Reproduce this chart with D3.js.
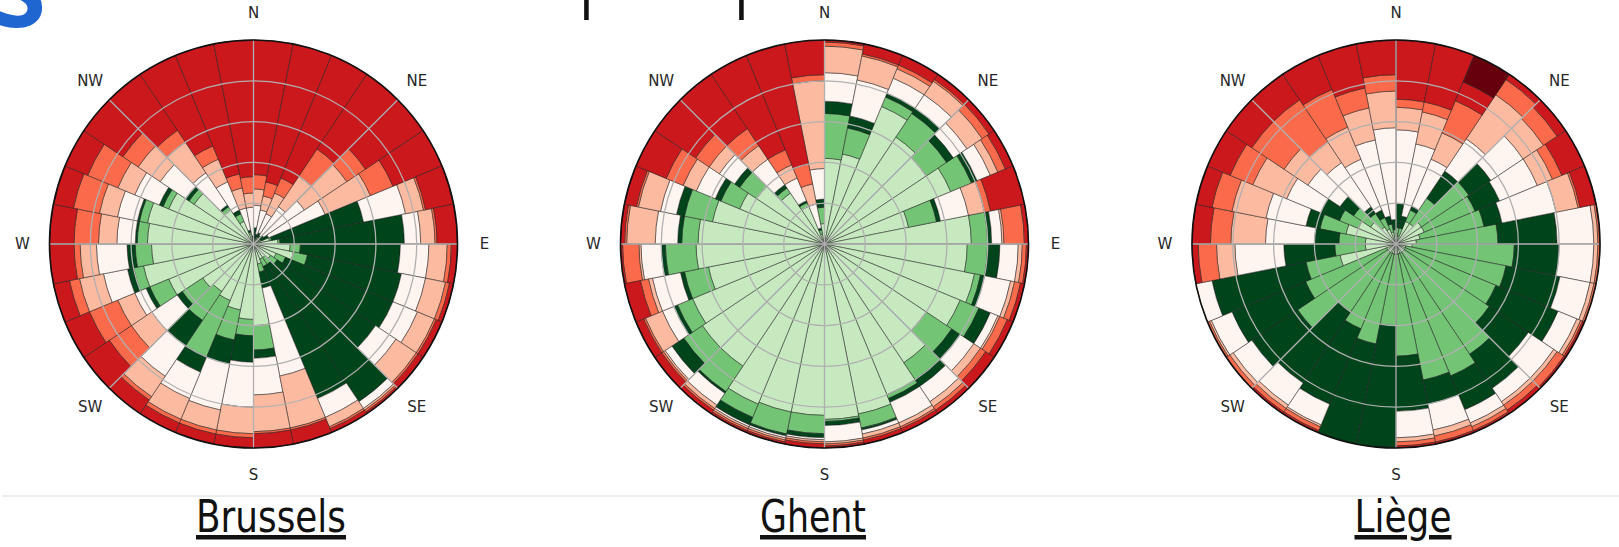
<!DOCTYPE html>
<html><head><meta charset="utf-8">
<script src="https://cdn.jsdelivr.net/npm/d3@7"></script>
<style>body{margin:0;background:#fff}svg{display:block}</style>
</head><body>
<svg id="chart" width="1619" height="547"></svg>
<script>
// categories (stack order from centre outwards)
const categories = ["very good","good","fairly good","moderate","poor","very poor","bad","very bad"];
const categoryColors = ["#c7e9c0","#74c476","#00441b","#fff5f0","#fcbba1","#fb6a4a","#cb181d","#67000d"];
const compassLabels = ["N","NE","E","SE","S","SW","W","NW"];
const cityNames = ["Brussels","Ghent","Liège"];
const sectorCount = 32;

// share (%) of each category per wind sector, sectors clockwise from N (11.25° each)
const brussels = [
[2,0,6,11,8,7,66,0],[2,1,2,12,7,7,69,0],[3,1,2,10,11,8,65,0],[3,1,1,17,18,16,44,0],
[3,1,2,24,25,11,34,0],[3,1,4,30,24,12,26,0],[8,1,46,21,9,1,14,0],[12,1,61,8,7,1,10,0],
[18,5,49,14,9,2,3,0],[20,7,47,12,10,2,2,0],[12,5,57,13,9,1,3,0],[10,4,58,12,12,1,3,0],
[8,4,81,4,1,1,1,0],[8,4,70,10,5,1,2,0],[10,4,8,44,26,1,7,0],[40,12,4,18,18,1,7,0],
[37,8,13,22,13,2,5,0],[33,15,12,23,10,2,5,0],[30,30,8,14,11,2,5,0],[28,17,15,18,12,2,8,0],
[30,12,3,15,12,13,15,0],[45,10,2,6,9,15,13,0],[55,5,3,12,12,5,8,0],[50,8,4,15,8,3,12,0],
[52,5,1,9,9,12,12,0],[53,4,1,10,9,13,10,0],[45,3,2,13,9,16,12,0],[35,3,2,15,13,9,23,0],
[20,2,1,19,18,7,33,0],[12,4,2,15,12,7,48,0],[5,1,1,11,10,7,65,0],[2,1,1,14,7,8,67,0]
];
const ghent = [
[42,22,6,14,13,2,1,0],[45,13,6,18,12,1,5,0],[73,5,2,8,5,2,5,0],[63,14,3,8,8,1,3,0],
[60,12,4,8,9,4,3,0],[67,11,3,7,4,4,4,0],[42,14,2,14,8,3,17,0],[72,8,2,5,1,10,2,0],
[70,10,6,9,2,2,1,0],[75,3,2,13,2,3,2,0],[72,10,6,4,1,4,3,0],[60,15,5,8,4,3,5,0],
[70,10,4,9,3,2,2,0],[80,2,2,11,2,1,2,0],[85,7,1,2,2,1,2,0],[86,1,2,8,1,1,1,0],
[84,9,2,1,1,1,2,0],[84,11,1,1,1,1,1,0],[85,7,4,1,1,1,1,0],[72,15,1,7,2,1,2,0],
[72,11,7,4,1,1,4,0],[70,8,2,6,9,1,4,0],[58,12,2,14,2,4,8,0],[63,15,2,10,1,8,1,0],
[62,8,2,11,14,1,2,0],[56,14,4,8,11,1,6,0],[45,10,3,10,7,9,16,0],[40,10,3,9,6,8,24,0],
[30,3,2,15,8,10,32,0],[20,2,1,12,7,8,50,0],[5,2,1,12,10,10,60,0],[10,8,4,15,43,3,17,0]
];
const liege = [
[5,3,12,36,11,4,29,0],[4,4,6,36,16,5,29,0],[12,6,2,25,14,17,10,14],[12,15,16,19,26,9,3,0],
[15,28,13,19,12,8,5,0],[15,27,13,20,8,5,12,0],[12,32,9,27,11,1,8,0],[10,40,29,18,2,1,0,0],
[8,50,22,17,2,1,0,0],[5,50,27,15,2,1,0,0],[5,48,33,10,2,1,1,0],[5,50,23,15,2,4,1,0],
[5,60,20,8,2,3,2,0],[5,65,18,7,2,2,1,0],[5,63,12,13,3,3,1,0],[5,50,27,13,2,2,1,0],
[5,35,60,0,0,0,0,0],[5,45,50,0,0,0,0,0],[5,40,40,11,1,2,1,0],[5,35,42,13,2,2,1,0],
[5,53,27,11,2,2,0,0],[5,43,39,11,1,1,0,0],[28,17,47,8,0,0,0,0],[15,15,25,24,9,9,3,0],
[15,13,12,24,17,10,9,0],[25,13,7,20,17,10,8,0],[20,10,10,18,18,12,12,0],[15,10,8,19,14,19,15,0],
[10,8,4,26,12,25,15,0],[8,6,4,27,17,20,18,0],[6,4,4,38,16,10,22,0],[4,3,5,45,18,8,17,0]
];
const cityData = [brussels, ghent, liege];

const svg = d3.select("#chart");
const R = 204;
const centres = [[253.5,244],[824.5,244],[1396,244]];
const titleX = [271, 813, 1403];
const titleWidth = [150, 106, 97];

const angle = d3.scaleBand().domain(d3.range(sectorCount)).range([0, 2*Math.PI]).paddingInner(0).paddingOuter(0);
const radius = d3.scaleLinear().domain([0,100]).range([0,R]);
const color = d3.scaleOrdinal().domain(d3.range(categories.length)).range(categoryColors);
const stack = d3.stack().keys(d3.range(categories.length)).value((d,k)=>d.v[k]);
const arc = d3.arc()
  .innerRadius(d=>radius(d[0])).outerRadius(d=>radius(d[1]))
  .startAngle(d=>angle(d.data.i)).endAngle(d=>angle(d.data.i)+angle.bandwidth());

// partial heading cut by the top edge of the slide
svg.append("text").attr("x",-8).attr("y",27).attr("font-family","Open Sans, sans-serif")
  .attr("font-weight",700).attr("font-size",98).attr("fill","#1f66d1").text("S");
svg.append("text").attr("x",576).attr("y",-2).attr("font-family","Open Sans, sans-serif")
  .attr("font-weight",300).attr("font-size",92).attr("fill","#111").text("p");
svg.append("text").attr("x",731).attr("y",-2).attr("font-family","Open Sans, sans-serif")
  .attr("font-weight",300).attr("font-size",92).attr("fill","#111").text("p");

cityData.forEach((data, ci)=>{
  const [cx, cy] = centres[ci];
  const g = svg.append("g").attr("transform",`translate(${cx},${cy})`);
  const rows = data.map((v,i)=>({i, v}));
  const series = stack(rows);
  series.forEach((s, k)=>{
    g.append("g").selectAll("path").data(s.filter(d=>d[1]-d[0]>0)).join("path")
      .attr("d", arc).attr("fill", color(k))
      .attr("stroke","#1b1b1b").attr("stroke-width",0.6).attr("stroke-opacity",0.85);
  });
  const grid = g.append("g").attr("fill","none").attr("stroke","#b0b0b0").attr("stroke-width",1.3);
  radius.ticks(5).filter(t=>t>0 && t<100).forEach(t=>grid.append("circle").attr("r",radius(t)));
  compassLabels.forEach((lab,j)=>{
    const a = j*Math.PI/4;
    grid.append("line").attr("x1",0).attr("y1",0)
      .attr("x2",Math.sin(a)*R).attr("y2",-Math.cos(a)*R);
    g.append("text").attr("x",Math.sin(a)*(R+27)).attr("y",-Math.cos(a)*(R+27))
      .attr("text-anchor","middle").attr("dominant-baseline","central")
      .attr("font-family","DejaVu Sans, sans-serif").attr("font-size",15).attr("fill","#262626")
      .text(lab);
  });
  g.append("circle").attr("r",R).attr("fill","none").attr("stroke","#111").attr("stroke-width",1.6);
  svg.append("text").attr("x",titleX[ci]).attr("y",532).attr("text-anchor","middle")
    .attr("font-family","DejaVu Sans Condensed, DejaVu Sans, sans-serif")
    .attr("font-stretch","condensed")
    .attr("font-size",45).attr("fill","#111").attr("text-decoration","underline")
    .attr("textLength",titleWidth[ci]).attr("lengthAdjust","spacingAndGlyphs")
    .text(cityNames[ci]);
});
svg.append("line").attr("x1",2).attr("x2",1619).attr("y1",496).attr("y2",496)
  .attr("stroke","#dcdcdc").attr("stroke-width",1.2);
</script>
</body></html>
